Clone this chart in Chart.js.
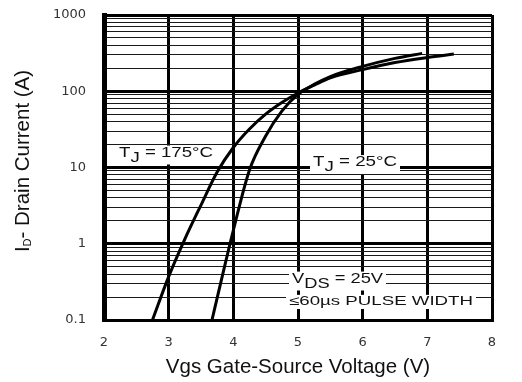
<!DOCTYPE html>
<html>
<head>
<meta charset="utf-8">
<script src="https://cdn.jsdelivr.net/npm/chart.js@4/dist/chart.umd.min.js"></script>
<style>
  html, body { margin: 0; padding: 0; background: #fff; }
  #wrap { width: 522px; height: 382px; }
</style>
</head>
<body>
<div id="wrap"><canvas id="c" width="522" height="382"></canvas></div>
<script>
// ---- data ----
const vgs175 = [2.75, 3.0, 3.25, 3.5, 3.75, 4.0, 4.25, 4.5, 4.75, 5.0, 5.25, 5.5, 6.0, 6.5, 7.0, 7.41];
const id175  = [0.1, 0.37, 1.15, 3.22, 8.73, 18.3, 32, 50, 71, 95, 120, 150, 192, 238, 277, 307];
const vgs25  = [3.67, 3.75, 4.0, 4.25, 4.5, 4.75, 5.0, 5.25, 5.5, 6.0, 6.5, 6.92];
const id25   = [0.1, 0.195, 1.5, 9.3, 25.9, 55, 91, 123, 156, 212, 270, 314];
const xTicks = [2, 3, 4, 5, 6, 7, 8];
const yDecades = [0.1, 1, 10, 100, 1000];
const seriesNames = ['TJ = 175°C', 'TJ = 25°C'];

// annotation texts (segments: [text, isSubscript])
const labelTexts = [
  [['T', false], ['J', true], [' = 175°C', false]],
  [['T', false], ['J', true], [' = 25°C', false]],
  [['V', false], ['DS', true], [' = 25V', false]],
  [['≤60µs PULSE WIDTH', false]]
];
// ---- layout / placement (not data) ----
const labelPlace = [
  { x: 119, base: 156.5, w: 94, size: 14 },
  { x: 313, base: 166, w: 84, size: 14 },
  { x: 292, base: 282.5, w: 91, size: 14 },
  { x: 289, base: 305, w: 184, size: 13 }
];

const FONT = '"Liberation Sans", Arial, sans-serif';

function toPts(xs, ys) { return xs.map((x, i) => ({ x: x, y: ys[i] })); }

function allLogTicks() {
  const out = [];
  for (let e = -1; e <= 2; e++) {
    for (let m = 1; m <= 9; m++) out.push(parseFloat((m * Math.pow(10, e)).toPrecision(3)));
  }
  out.push(1000);
  return out;
}
function isDecade(v) { return yDecades.some(d => Math.abs(d - v) < 1e-9); }

function drawRich(ctx, segs, x, base, size, targetW, subSize, subOff) {
  let nat = 0;
  const widths = segs.map(s => {
    ctx.font = (s[1] ? subSize : size) + 'px ' + FONT;
    const w = ctx.measureText(s[0]).width; nat += w; return w;
  });
  const sc = targetW ? targetW / nat : 1;
  ctx.save();
  ctx.translate(x, base);
  ctx.scale(sc, 1);
  let cx = 0;
  segs.forEach((s, i) => {
    ctx.font = (s[1] ? subSize : size) + 'px ' + FONT;
    ctx.fillText(s[0], cx, s[1] ? subOff : 0);
    cx += widths[i];
  });
  ctx.restore();
  return nat * sc;
}

const annot = {
  id: 'annot',
  afterDraw(chart) {
    const ctx = chart.ctx;
    ctx.save();
    ctx.textBaseline = 'alphabetic';
    ctx.textAlign = 'left';
    labelTexts.forEach((segs, i) => {
      const p = labelPlace[i];
      ctx.fillStyle = '#fff';
      ctx.fillRect(p.x - 3, p.base - p.size * 0.78, p.w + 6, p.size * 0.78 + (segs.some(s => s[1]) ? 8 : 4));
      ctx.fillStyle = '#111';
      drawRich(ctx, segs, p.x, p.base, p.size, p.w, p.size, 5);
    });
    // y-axis title with subscript
    ctx.save();
    ctx.translate(28.5, 161);
    ctx.rotate(-Math.PI / 2);
    ctx.fillStyle = '#111';
    const segs = [['I', false], ['D', true], ['- Drain Current (A)', false]];
    let nat = 0;
    segs.forEach(s => { ctx.font = (s[1] ? 11 : 20.5) + 'px ' + FONT; nat += ctx.measureText(s[0]).width; });
    drawRich(ctx, segs, -nat / 2, 0, 20.5, 0, 11, 2);
    ctx.restore();
    ctx.restore();
  }
};

new Chart(document.getElementById('c'), {
  type: 'line',
  data: {
    datasets: [
      { label: seriesNames[0], data: toPts(vgs175, id175), borderColor: '#000', borderWidth: 3,
        pointRadius: 0, fill: false, cubicInterpolationMode: 'monotone' },
      { label: seriesNames[1], data: toPts(vgs25, id25), borderColor: '#000', borderWidth: 3,
        pointRadius: 0, fill: false, cubicInterpolationMode: 'monotone' }
    ]
  },
  options: {
    responsive: false,
    animation: false,
    devicePixelRatio: 1,
    layout: { padding: { left: 0, top: 15, right: 30, bottom: 0 } },
    plugins: { legend: { display: false }, tooltip: { enabled: false } },
    scales: {
      x: {
        type: 'linear', min: 2, max: 8,
        afterBuildTicks: s => { s.ticks = xTicks.map(v => ({ value: v })); },
        afterFit: s => { s.height = 62; },
        ticks: { padding: 15, color: '#333', font: { family: 'DejaVu Sans', size: 13 } },
        grid: { color: '#000', lineWidth: 3, drawTicks: false },
        border: { color: '#000', width: 3 },
        title: { display: true, text: 'Vgs Gate-Source Voltage (V)', color: '#111',
                 font: { family: FONT, size: 20.5 }, padding: { top: 0, bottom: 2 } }
      },
      y: {
        type: 'logarithmic', min: 0.1, max: 1000,
        afterBuildTicks: s => { s.ticks = allLogTicks().map(v => ({ value: v })); },
        afterFit: s => { s.width = 104; s.paddingTop = 0; s.paddingBottom = 0; },
        ticks: {
          autoSkip: false, padding: 18, color: '#333', font: { family: 'DejaVu Sans', size: 13 },
          callback: v => isDecade(v) ? String(v) : ''
        },
        grid: {
          drawTicks: false,
          color: c => isDecade(c.tick.value) ? '#000' : '#1a1a1a',
          lineWidth: c => isDecade(c.tick.value) ? 3 : 1
        },
        border: { color: '#000', width: 5 }
      }
    }
  },
  plugins: [annot]
});
</script>
</body>
</html>
